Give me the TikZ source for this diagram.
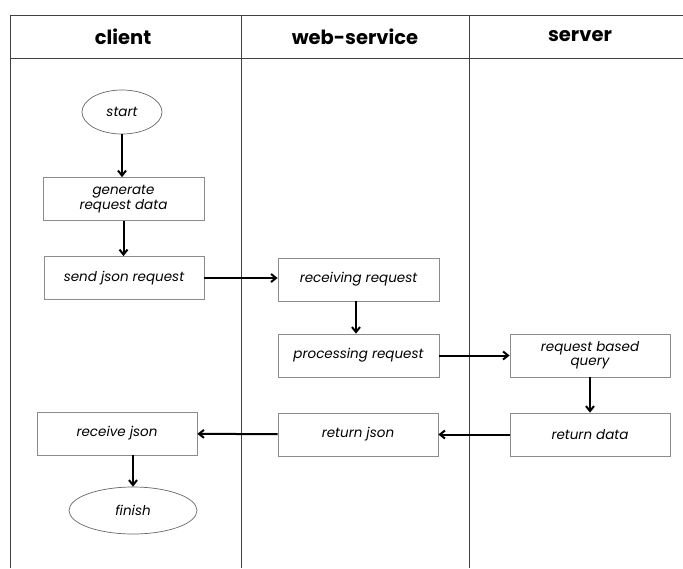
\documentclass[tikz,border=0pt]{standalone}
\usepackage{fontspec}
\setmainfont{Poppins}
\newfontfamily\headfont{Poppins}[UprightFont=* Bold]
\usetikzlibrary{arrows.meta,shapes.geometric}
\tikzset{
  lane/.style={draw=black!75, line width=1pt},
  stepbox/.style={draw=black!45, line width=0.7pt, rectangle, minimum width=160pt, minimum height=43pt, inner sep=0pt, align=center, font=\fontsize{13.5}{13.5}\selectfont\itshape},
  term/.style={draw=black!60, line width=0.7pt, ellipse, inner sep=0pt, align=center, font=\fontsize{13.5}{13.5}\selectfont\itshape},
  head/.style={font=\headfont\fontsize{19.5}{20}\selectfont},
  flow/.style={-{Straight Barb[length=5pt,width=8pt]}, line width=2pt},
}
\begin{document}
\begin{tikzpicture}[x=1pt,y=-1pt]
\useasboundingbox (0,0) rectangle (683,568);
% swimlane grid
\draw[lane] (683,15) -- (10,15) -- (10,568);
\draw[lane] (10,58) -- (683,58);
\draw[lane] (241,15) -- (241,568);
\draw[lane] (469,15) -- (469,568);
% lane titles
\node[head] (hclient) at (123,37) {client};
\node[head] (hweb) at (355,37) {web-service};
\node[head] (hserver) at (580,36) {server};
% steps
\node[term, minimum width=80pt, minimum height=44pt] (start) at (122,112) {start};
\node[stepbox, minimum width=161pt] (gen) at (123.5,199) {generate\\request data};
\node[stepbox] (send) at (124,278) {send json request};
\node[stepbox, minimum width=161pt] (recv) at (358.5,279.5) {receiving request};
\node[stepbox, minimum width=161pt] (proc) at (358.5,355.5) {processing request};
\node[stepbox] (query) at (590,355.5) {request based\\query};
\node[stepbox] (rdata) at (590,434.5) {return data};
\node[stepbox] (rjson) at (358,434.5) {return json};
\node[stepbox] (rcvj) at (117,433.5) {receive json};
\node[term, minimum width=128pt, minimum height=47pt] (finish) at (133,510.5) {finish};
% flow
\draw[flow] (start) -- (start |- gen.north);
\draw[flow] (gen) -- (gen |- send.north);
\draw[flow] (send) -- (recv.west |- send);
\draw[flow] (recv.south -| 356,0) -- (356,0 |- proc.north);
\draw[flow] (proc) -- (query);
\draw[flow] (query) -- (query |- rdata.north);
\draw[flow] (rdata) -- (rjson);
\draw[flow] (rjson) -- (rcvj);
\draw[flow] (rcvj.south -| finish) -- (finish);
\end{tikzpicture}
\end{document}
